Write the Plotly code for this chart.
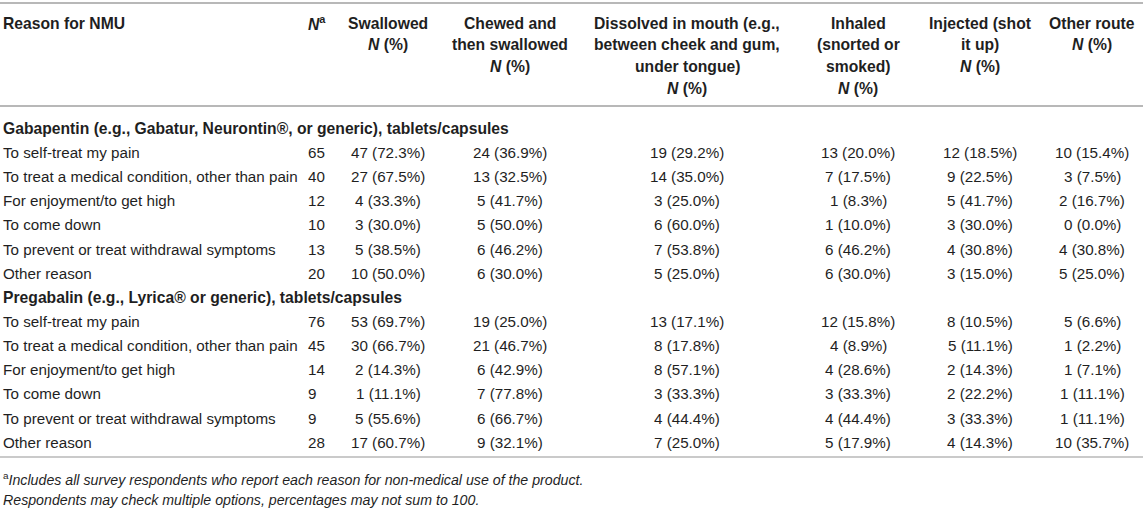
import plotly.graph_objects as go

# table content
reasons = [
    "To self-treat my pain",
    "To treat a medical condition, other than pain",
    "For enjoyment/to get high",
    "To come down",
    "To prevent or treat withdrawal symptoms",
    "Other reason",
]

groups = [
    "Gabapentin (e.g., Gabatur, Neurontin®, or generic), tablets/capsules",
    "Pregabalin (e.g., Lyrica® or generic), tablets/capsules",
]

route_headers = [
    ["Swallowed", "<i>N</i> (%)"],
    ["Chewed and", "then swallowed", "<i>N</i> (%)"],
    ["Dissolved in mouth (e.g.,", "between cheek and gum,", "under tongue)", "<i>N</i> (%)"],
    ["Inhaled", "(snorted or", "smoked)", "<i>N</i> (%)"],
    ["Injected (shot", "it up)", "<i>N</i> (%)"],
    ["Other route", "<i>N</i> (%)"],
]

gaba_n = [65, 40, 12, 10, 13, 20]
gaba_counts = [
    [47, 27, 4, 3, 5, 10],
    [24, 13, 5, 5, 6, 6],
    [19, 14, 3, 6, 7, 5],
    [13, 7, 1, 1, 6, 6],
    [12, 9, 5, 3, 4, 3],
    [10, 3, 2, 0, 4, 5],
]
gaba_pct = [
    [72.3, 67.5, 33.3, 30.0, 38.5, 50.0],
    [36.9, 32.5, 41.7, 50.0, 46.2, 30.0],
    [29.2, 35.0, 25.0, 60.0, 53.8, 25.0],
    [20.0, 17.5, 8.3, 10.0, 46.2, 30.0],
    [18.5, 22.5, 41.7, 30.0, 30.8, 15.0],
    [15.4, 7.5, 16.7, 0.0, 30.8, 25.0],
]

prega_n = [76, 45, 14, 9, 9, 28]
prega_counts = [
    [53, 30, 2, 1, 5, 17],
    [19, 21, 6, 7, 6, 9],
    [13, 8, 8, 3, 4, 7],
    [12, 4, 4, 3, 4, 5],
    [8, 5, 2, 2, 3, 4],
    [5, 1, 1, 1, 1, 10],
]
prega_pct = [
    [69.7, 66.7, 14.3, 11.1, 55.6, 60.7],
    [25.0, 46.7, 42.9, 77.8, 66.7, 32.1],
    [17.1, 17.8, 57.1, 33.3, 44.4, 25.0],
    [15.8, 8.9, 28.6, 33.3, 44.4, 17.9],
    [10.5, 11.1, 14.3, 22.2, 33.3, 14.3],
    [6.6, 2.2, 7.1, 11.1, 11.1, 35.7],
]

footnotes = [
    "<sup>a</sup><i>Includes all survey respondents who report each reason for non-medical use of the product.</i>",
    "<i>Respondents may check multiple options, percentages may not sum to 100.</i>",
]

# layout in pixels (y grows downward)
W, H = 1143, 509
FONT = "Liberation Sans, Arial, sans-serif"
TXT = "#1f1f1f"
RULE = "#b8b8b8"
x_label = 1
x_n = 306
x_routes = [388, 510, 687, 858, 980, 1092]
header_y0, header_dy = 23, 21.7
group_y = [128, 297]
row_dy = 24.2

fig = go.Figure()
ann = []


def text(x, y, s, anchor="center", bold=False, size=15.2):
    if bold:
        s = "<b>" + s + "</b>"
        size = 15.7
    ann.append(dict(x=x, y=y, xref="x", yref="y", text=s, showarrow=False,
                    xanchor=anchor, yanchor="middle",
                    font=dict(family=FONT, size=size, color=TXT)))


# header
text(x_label, header_y0, "Reason for NMU", anchor="left", bold=True)
text(x_n, header_y0, "<i>N</i><sup>a</sup>", anchor="left", bold=True)
for x, lines in zip(x_routes, route_headers):
    for i, line in enumerate(lines):
        text(x, header_y0 + i * header_dy, line, bold=True)

# body
for gy, title, n, counts, pct in [
    (group_y[0], groups[0], gaba_n, gaba_counts, gaba_pct),
    (group_y[1], groups[1], prega_n, prega_counts, prega_pct),
]:
    text(x_label, gy, title, anchor="left", bold=True)
    for r, reason in enumerate(reasons):
        y = gy + (r + 1) * row_dy
        text(x_label, y, reason, anchor="left")
        text(x_n, y, str(n[r]), anchor="left")
        for c, x in enumerate(x_routes):
            text(x, y, f"{counts[c][r]} ({pct[c][r]:.1f}%)")

# footnotes
text(x_label, 479, footnotes[0], anchor="left", size=14.2)
text(x_label, 500, footnotes[1], anchor="left", size=14.2)

shapes = [
    dict(type="line", x0=0, x1=W, y0=3, y1=3, line=dict(color=RULE, width=2)),
    dict(type="line", x0=0, x1=W, y0=106, y1=106, line=dict(color=RULE, width=2)),
    dict(type="line", x0=0, x1=W, y0=457, y1=457, line=dict(color=RULE, width=1.5)),
]

fig.update_layout(
    width=W, height=H,
    margin=dict(l=0, r=0, t=0, b=0),
    paper_bgcolor="white", plot_bgcolor="white",
    xaxis=dict(range=[0, W], visible=False, fixedrange=True),
    yaxis=dict(range=[H, 0], visible=False, fixedrange=True),
    annotations=ann,
    shapes=shapes,
    showlegend=False,
)

# drop the default 8px page margin so the figure sits at the window corner
fig.write_html("out.html", config={"displayModeBar": False},
               post_script="document.body.style.margin='0';")
